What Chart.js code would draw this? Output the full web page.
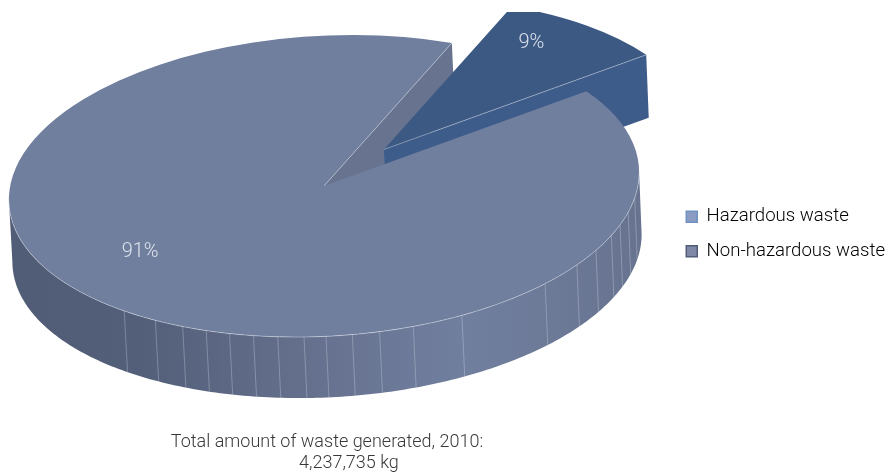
<!DOCTYPE html>
<html>
<head>
<meta charset="utf-8">
<title>Waste generated 2010</title>
<script src="https://cdn.jsdelivr.net/npm/chart.js@4"></script>
<style>
  html, body { margin: 0; padding: 0; background: #fff; }
  #wrap { width: 886px; height: 473px; }
</style>
</head>
<body>
<div id="wrap"><canvas id="chart" width="886" height="473"></canvas></div>
<script>
const categories = ["Hazardous waste", "Non-hazardous waste"];
const percentages = [9, 91];
// le second titre est decale vers la droite dans l'original, d'ou les espaces
const titleLines = ["Total amount of waste generated, 2010:", "          4,237,735 kg"];

// couleurs
const sliceColors = ["#3c5984", "#717f9f"];
const legendFill = ["#8a9cc2", "#7f88a6"];
const legendBorder = ["#6f92c4", "#525d78"];
const textFont = "Roboto";

// vue 3D : ellipse du dessus et du dessous (le cercle du pie est projete dessus)
const topFace = { x: 324, y: 186, rx: 314.5, ry: 151 };
const bottomFace = { x: 327, y: 248, rx: 314, ry: 150 };
const shearX = -20;
const shearY = -4;
const explode = 0.295; // en fraction du rayon
const clipTop = 12;
// traits verticaux du cote, en degres depuis le haut
const facetDeg = [96, 101.5, 106.4, 110.6, 116.7, 123, 131.8, 150.4, 159.9, 166.2, 171.2, 176,
  180, 184.8, 189.3, 193.8, 198.3, 203, 208.7, 215.7];
// bords gauche et droit du cote, la ou il est tangent a l'ellipse
const wallFrom = -3.6;
const wallTo = 176.4;

function project(face, ang, r, ox, oy) {
  const u = r * Math.cos(ang) + ox;
  const v = r * Math.sin(ang) + oy;
  return {
    x: face.x + face.rx * u + shearX * v,
    y: face.y + shearY * u + face.ry * v,
  };
}

function quad(ctx, a, b, c, d) {
  ctx.beginPath();
  ctx.moveTo(a.x, a.y);
  ctx.lineTo(b.x, b.y);
  ctx.lineTo(c.x, c.y);
  ctx.lineTo(d.x, d.y);
  ctx.closePath();
  ctx.fill();
}

const pie3d = {
  id: "pie3d",
  afterLayout(chart) {
    // titre centre sous le pie et non sur toute la largeur
    chart.titleBlock.left = 0;
    chart.titleBlock.right = 654;
    chart.titleBlock.top += 6;
    chart.titleBlock.bottom += 6;
    chart.legend.left += 9;
    chart.legend.right += 9;
  },
  afterDatasetsUpdate(chart) {
    const small = chart.getDatasetMeta(0).data[0];
    const mid = (small.startAngle + small.endAngle) / 2;
    small.x += Math.cos(mid) * explode * small.outerRadius;
    small.y += Math.sin(mid) * explode * small.outerRadius;
  },
  beforeDatasetsDraw(chart) {
    const ctx = chart.ctx;
    const [small, big] = chart.getDatasetMeta(0).data;
    const mid = (small.startAngle + small.endAngle) / 2;
    const ox = Math.cos(mid) * explode;
    const oy = Math.sin(mid) * explode;

    ctx.save();
    ctx.beginPath();
    ctx.rect(0, clipTop, chart.width, chart.height - clipTop);
    ctx.clip();

    // cote coupe du grand secteur, visible dans l'encoche
    ctx.fillStyle = "#68748f";
    quad(ctx,
      project(topFace, 0, 0, 0, 0),
      project(topFace, small.startAngle, 1, 0, 0),
      project(bottomFace, small.startAngle, 1, 0, 0),
      project(bottomFace, 0, 0, 0, 0));

    // cote coupe du petit secteur
    ctx.fillStyle = "#3e5c8a";
    quad(ctx,
      project(topFace, 0, 0, ox, oy),
      project(topFace, small.endAngle, 1, ox, oy),
      project(bottomFace, small.endAngle, 1, ox, oy),
      project(bottomFace, 0, 0, ox, oy));

    // cote arrondi du grand secteur
    const grad = ctx.createLinearGradient(13, 0, 641, 0);
    grad.addColorStop(0, "#515c76");
    grad.addColorStop(0.2, "#535e79");
    grad.addColorStop(0.45, "#646f8c");
    grad.addColorStop(0.72, "#717f9f");
    grad.addColorStop(1, "#67738f");
    ctx.fillStyle = grad;
    const from = wallFrom * Math.PI / 180;
    const to = wallTo * Math.PI / 180;
    const steps = 200;
    ctx.beginPath();
    for (let i = 0; i <= steps; i++) {
      const p = project(topFace, from + (to - from) * i / steps, 1, 0, 0);
      ctx.lineTo(p.x, p.y);
    }
    for (let i = steps; i >= 0; i--) {
      const p = project(bottomFace, from + (to - from) * i / steps, 1, 0, 0);
      ctx.lineTo(p.x, p.y);
    }
    ctx.closePath();
    ctx.fill();

    ctx.strokeStyle = "rgba(225, 230, 240, 0.3)";
    ctx.lineWidth = 1;
    for (let i = 0; i < facetDeg.length; i++) {
      const ang = (facetDeg[i] - 90) * Math.PI / 180;
      const a = project(topFace, ang, 1, 0, 0);
      const b = project(bottomFace, ang, 1, 0, 0);
      ctx.beginPath();
      ctx.moveTo(a.x, a.y);
      ctx.lineTo(b.x, b.y);
      ctx.stroke();
    }

    // le pie de chart.js est dessine dans ce repere
    const R = big.outerRadius;
    const a = topFace.rx / R;
    const b = shearY / R;
    const c = shearX / R;
    const d = topFace.ry / R;
    ctx.transform(a, b, c, d,
      topFace.x - a * big.x - c * big.y,
      topFace.y - b * big.x - d * big.y);
  },
  afterDatasetsDraw(chart) {
    const ctx = chart.ctx;
    ctx.restore();

    const small = chart.getDatasetMeta(0).data[0];
    const mid = (small.startAngle + small.endAngle) / 2;
    const ox = Math.cos(mid) * explode;
    const oy = Math.sin(mid) * explode;

    // liseres clairs
    ctx.save();
    ctx.strokeStyle = "rgba(225, 230, 240, 0.4)";
    ctx.lineWidth = 1;
    ctx.beginPath();
    let p = project(topFace, 0, 0, 0, 0);
    ctx.moveTo(p.x, p.y);
    p = project(topFace, small.startAngle, 1, 0, 0);
    ctx.lineTo(p.x, p.y);
    ctx.stroke();
    ctx.beginPath();
    p = project(topFace, 0, 0, ox, oy);
    ctx.moveTo(p.x, p.y);
    p = project(topFace, small.endAngle, 1, ox, oy);
    ctx.lineTo(p.x, p.y);
    ctx.stroke();
    ctx.beginPath();
    for (let i = 0; i <= 200; i++) {
      p = project(topFace, (wallFrom + (wallTo - wallFrom) * i / 200) * Math.PI / 180, 1, 0, 0);
      ctx.lineTo(p.x, p.y);
    }
    ctx.stroke();

    // etiquettes en %
    ctx.fillStyle = "#dde2ec";
    ctx.font = "300 20px " + textFont;
    ctx.textAlign = "center";
    ctx.textBaseline = "middle";
    const spots = [project(topFace, -1.035, 0.83, ox, oy), project(topFace, 2.517, 0.689, 0, 0)];
    for (let i = 0; i < percentages.length; i++) {
      ctx.fillText(percentages[i] + "%", spots[i].x, spots[i].y + 3);
    }
    ctx.restore();
  },
};

new Chart(document.querySelector("#chart"), {
  type: "pie",
  data: {
    labels: categories,
    datasets: [
      {
        data: percentages,
        backgroundColor: sliceColors,
        borderWidth: 0,
        clip: false,
      },
    ],
  },
  options: {
    responsive: false,
    animation: false,
    rotation: 20.3,
    layout: { padding: { bottom: 5 } },
    plugins: {
      tooltip: { enabled: false },
      legend: {
        position: "right",
        labels: {
          boxWidth: 11,
          boxHeight: 11,
          padding: 16,
          color: "#383838",
          font: { family: textFont, size: 18.6, weight: "300" },
          generateLabels() {
            return categories.map((name, i) => ({
              text: name,
              fillStyle: legendFill[i],
              strokeStyle: legendBorder[i],
              lineWidth: 1.5,
              index: i,
            }));
          },
        },
      },
      title: {
        display: true,
        position: "bottom",
        fullSize: false,
        text: titleLines,
        color: "#383838",
        font: { family: textFont, size: 18, weight: "300", lineHeight: 1.17 },
        padding: { top: 0, bottom: 0 },
      },
    },
  },
  plugins: [pie3d],
});
</script>
</body>
</html>
